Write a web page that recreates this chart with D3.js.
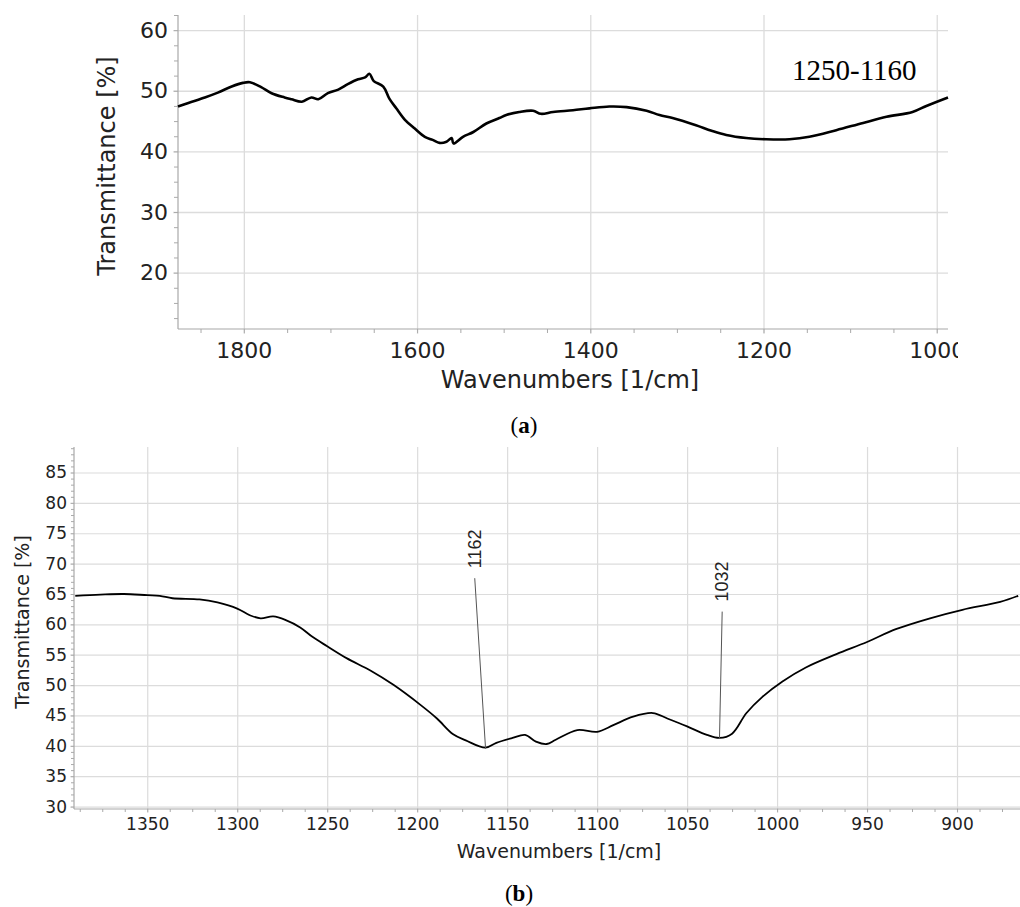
<!DOCTYPE html>
<html>
<head>
<meta charset="utf-8">
<title>FTIR spectra</title>
<script src="https://d3js.org/d3.v7.min.js"></script>
<style>
  body { margin: 0; background: #fff; }
  svg { display: block; }
  .tick text { font-family: "DejaVu Sans", Verdana, sans-serif; fill: #222; }
  .grid line { stroke: #dcdcdc; }
  .grid path, .minor path { display: none; }
  .minor line { stroke: #aaa; }
  .axisline { stroke: #a8a8a8; stroke-width: 1.2; }
  .title { font-family: "DejaVu Sans", Verdana, sans-serif; fill: #222; }
  .cap { font-family: "Liberation Serif", "Times New Roman", serif; fill: #000; }
</style>
</head>
<body>
<div id="chart"></div>
<script>
// ---- panel (a): 1880-990 cm-1 ----
var wnA = [1876, 1864, 1845, 1830, 1814, 1801, 1793, 1780, 1768, 1753, 1745, 1733, 1722, 1714, 1703,
           1691, 1680, 1668, 1660, 1655, 1650, 1639, 1632, 1624, 1614, 1603, 1591, 1582, 1574, 1566,
           1560, 1558, 1547, 1535, 1520, 1505, 1497, 1482, 1466, 1457, 1443, 1420, 1401, 1378, 1358,
           1335, 1320, 1305, 1278, 1260, 1243, 1220, 1197, 1170, 1147, 1116, 1085, 1058, 1028, 1012, 987];
var tA  = [47.4, 48.0, 48.9, 49.7, 50.7, 51.3, 51.4, 50.6, 49.6, 48.9, 48.6, 48.2, 48.9, 48.6, 49.6,
           50.2, 51.1, 51.9, 52.2, 52.8, 51.6, 50.7, 48.7, 47.1, 45.2, 43.8, 42.4, 41.9, 41.4, 41.6,
           42.2, 41.3, 42.4, 43.2, 44.6, 45.5, 46.0, 46.5, 46.7, 46.2, 46.5, 46.8, 47.1, 47.4, 47.3,
           46.7, 46.0, 45.5, 44.3, 43.4, 42.7, 42.2, 42.0, 42.0, 42.4, 43.5, 44.7, 45.7, 46.5, 47.5, 48.9];
var xTicksA = [1800, 1600, 1400, 1200, 1000];
var yTicksA = [20, 30, 40, 50, 60];
var noteA = "1250-1160";

// ---- panel (b): 1390-865 cm-1 ----
var wnB = [1390, 1376, 1363, 1350, 1343, 1336, 1321, 1311, 1300, 1293, 1287, 1280, 1273, 1265, 1258,
           1250, 1239, 1226, 1213, 1198, 1189, 1180, 1173, 1162, 1156, 1147, 1140, 1134, 1128, 1123,
           1111, 1100, 1091, 1080, 1069, 1061, 1050, 1039, 1032, 1025, 1017, 1008, 997, 984, 967,
           950, 934, 915, 897, 876, 866];
var tB  = [64.7, 64.9, 65.0, 64.8, 64.7, 64.3, 64.1, 63.6, 62.6, 61.5, 61.0, 61.3, 60.7, 59.5, 57.9,
           56.4, 54.4, 52.4, 50.0, 46.7, 44.5, 41.9, 40.9, 39.7, 40.5, 41.3, 41.8, 40.7, 40.3, 41.0,
           42.6, 42.3, 43.4, 44.8, 45.4, 44.5, 43.2, 41.8, 41.3, 42.0, 45.4, 48.1, 50.6, 52.9, 55.1,
           57.1, 59.2, 61.0, 62.4, 63.7, 64.7];
var xTicksB = [1350, 1300, 1250, 1200, 1150, 1100, 1050, 1000, 950, 900];
var yTicksB = [30, 35, 40, 45, 50, 55, 60, 65, 70, 75, 80, 85];
var peakWn    = [1162, 1032];
var peakText  = ["1162", "1032"];
var leaderWn  = [1168, 1030.5];   // top end of the leader line
var leaderT   = [67.6, 62.1];

var W = 1020, H = 907;
var svg = d3.select("#chart").append("svg").attr("width", W).attr("height", H);
svg.append("rect").attr("width", W).attr("height", H).attr("fill", "#fff");

function panel(o) {
  var g = svg.append("g");
  if (o.clipW) {
    g.append("clipPath").attr("id", o.id + "clip")
      .append("rect").attr("x", 0).attr("y", 0).attr("width", o.clipW).attr("height", H);
    g.attr("clip-path", "url(#" + o.id + "clip)");
  }
  var x = d3.scaleLinear().domain(o.xDom).range([o.left, o.right]);
  var y = d3.scaleLinear().domain(o.yDom).range([o.bottom, o.top]);

  // gridlines
  g.append("g").attr("class", "grid")
    .attr("transform", "translate(0," + o.bottom + ")")
    .call(d3.axisBottom(x).tickValues(o.xTicks).tickSize(-(o.bottom - o.top) ).tickSizeOuter(0).tickFormat(""))
    .selectAll("line").attr("y1", o.majorLen).attr("stroke-width", o.gridW);
  g.append("g").attr("class", "grid")
    .attr("transform", "translate(" + o.left + ",0)")
    .call(d3.axisLeft(y).tickValues(o.yTicks).tickSize(-(o.right - o.left)).tickSizeOuter(0).tickFormat(""))
    .selectAll("line").attr("x1", -o.majorLen).attr("stroke-width", o.gridW);

  // minor ticks
  g.append("g").attr("class", "minor")
    .attr("transform", "translate(0," + o.bottom + ")")
    .call(d3.axisBottom(x).tickValues(o.xMinor.filter(function(v){ return x(v) >= o.left && x(v) <= o.right; }))
      .tickSize(o.minorLen).tickSizeOuter(0).tickFormat(""));
  g.append("g").attr("class", "minor")
    .attr("transform", "translate(" + o.left + ",0)")
    .call(d3.axisLeft(y).tickValues(o.yMinor.filter(function(v){ return y(v) >= o.top && y(v) <= o.bottom; }))
      .tickSize(o.minorLen).tickSizeOuter(0).tickFormat(""));

  // axis lines
  g.append("line").attr("class", "axisline")
    .attr("x1", o.left).attr("x2", o.left).attr("y1", o.top).attr("y2", o.bottom);
  g.append("line").attr("class", "axisline")
    .attr("x1", o.left).attr("x2", o.right).attr("y1", o.bottom).attr("y2", o.bottom);

  // tick labels
  var ax = g.append("g").attr("transform", "translate(0," + o.bottom + ")")
    .call(d3.axisBottom(x).tickValues(o.xTicks).tickSize(0).tickPadding(o.xPad).tickFormat(d3.format("d")));
  ax.select(".domain").remove();
  ax.selectAll("text").style("font-size", o.tickFs + "px");
  var ay = g.append("g").attr("transform", "translate(" + o.left + ",0)")
    .call(d3.axisLeft(y).tickValues(o.yTicks).tickSize(0).tickPadding(o.yPad).tickFormat(d3.format("d")));
  ay.select(".domain").remove();
  ay.selectAll("text").style("font-size", o.tickFs + "px");

  // axis titles
  g.append("text").attr("class", "title")
    .attr("x", o.xTitle[0]).attr("y", o.xTitle[1]).attr("text-anchor", "middle")
    .style("font-size", o.titleFs + "px").text("Wavenumbers [1/cm]");
  g.append("text").attr("class", "title")
    .attr("transform", "translate(" + o.yTitle[0] + "," + o.yTitle[1] + ") rotate(-90)")
    .attr("text-anchor", "middle").attr("dy", "0.35em")
    .style("font-size", o.titleFs + "px").text("Transmittance [%]");

  // spectrum
  var line = d3.line().curve(d3.curveCatmullRom.alpha(0.5))
    .x(function(d){ return x(d[0]); }).y(function(d){ return y(d[1]); });
  g.append("path")
    .datum(o.wn.map(function(w, i){ return [w, o.t[i]]; }))
    .attr("fill", "none").attr("stroke", "#000")
    .attr("stroke-width", o.lineW).attr("stroke-linejoin", "round")
    .attr("d", line);

  return {g: g, x: x, y: y};
}

// panel (a)
var pa = panel({
  id: "a", left: 178, right: 948, top: 15, bottom: 329, clipW: 958,
  xDom: [1876, 987], yDom: [10.7, 62.5],
  xTicks: xTicksA, yTicks: yTicksA,
  xMinor: d3.range(950, 1900, 50), yMinor: d3.range(10, 63, 2.5),
  majorLen: 5, minorLen: 4, gridW: 1.3,
  tickFs: 22, xPad: 13, yPad: 10, titleFs: 24,
  xTitle: [570, 388], yTitle: [107, 166],
  wn: wnA, t: tA, lineW: 2.6
});
pa.g.append("text").attr("class", "cap")
  .attr("x", 792).attr("y", 80).style("font-size", "29px").text(noteA);

// panel (b)
var pb = panel({
  id: "b", left: 74, right: 1020, top: 447, bottom: 809,
  xDom: [1390.7, 865], yDom: [29.6, 89.2],
  xTicks: xTicksB, yTicks: yTicksB,
  xMinor: d3.range(862.5, 1400, 12.5), yMinor: d3.range(30, 90, 1),
  majorLen: 4, minorLen: 3, gridW: 1.2,
  tickFs: 17, xPad: 9, yPad: 7, titleFs: 19,
  xTitle: [559, 858], yTitle: [22, 622],
  wn: wnB, t: tB, lineW: 1.8
});

// peak markers in (b)
peakWn.forEach(function(w, i) {
  var idx = wnB.indexOf(w);
  var x0 = pb.x(leaderWn[i]), y0 = pb.y(leaderT[i]);
  pb.g.append("line")
    .attr("x1", x0).attr("y1", y0)
    .attr("x2", pb.x(w)).attr("y2", pb.y(tB[idx]) + 1)
    .attr("stroke", "#555").attr("stroke-width", 1);
  pb.g.append("text")
    .attr("transform", "translate(" + (x0 + 6) + "," + (y0 - 10) + ") rotate(-90)")
    .attr("text-anchor", "start")
    .style("font-family", "'Liberation Sans', Arial, sans-serif").style("font-size", "18px")
    .attr("fill", "#222").text(peakText[i]);
});

// captions
svg.append("text").attr("class", "cap").attr("x", 524).attr("y", 433).attr("text-anchor", "middle")
  .style("font-size", "23px")
  .html('(<tspan font-weight="bold">a</tspan>)');
svg.append("text").attr("class", "cap").attr("x", 519).attr("y", 901).attr("text-anchor", "middle")
  .style("font-size", "23px")
  .html('(<tspan font-weight="bold">b</tspan>)');
</script>
</body>
</html>
